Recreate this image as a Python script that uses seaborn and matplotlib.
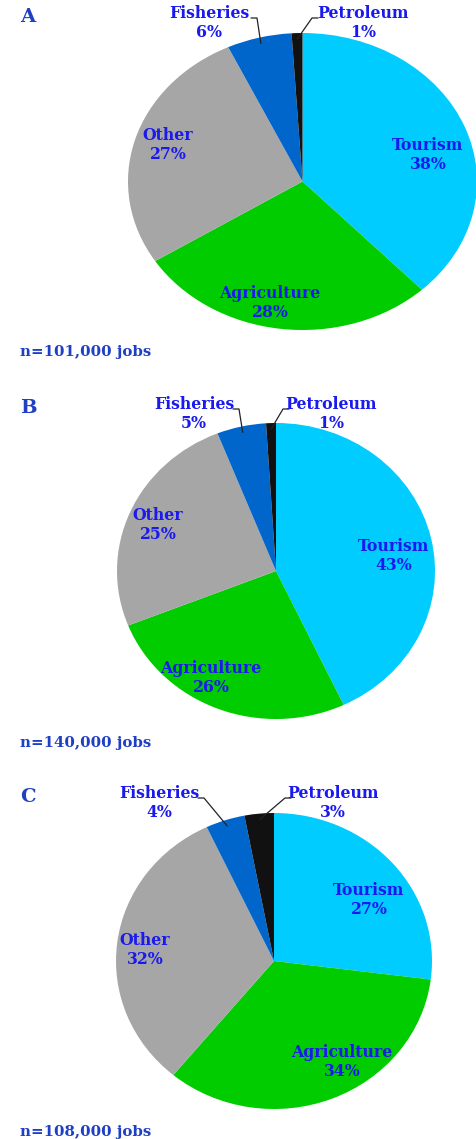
import numpy as np
import matplotlib
matplotlib.use('Agg')
import matplotlib.pyplot as plt
from matplotlib.lines import Line2D
import seaborn as sns

sns.set_theme(style='white')
plt.rcParams['font.family'] = ['DejaVu Serif']

W, H = 477, 1139

sectors = ['Tourism', 'Agriculture', 'Other', 'Fisheries', 'Petroleum']
share_a = [38, 28, 27, 6, 1]
share_b = [43, 26, 25, 5, 1]
share_c = [27, 34, 32, 4, 3]
panel_letters = ['A', 'B', 'C']
totals = ['n=101,000 jobs', 'n=140,000 jobs', 'n=108,000 jobs']

colors = ['#00CCFF', '#00CC00', '#A6A6A6', '#0066CC', '#111111']
label_blue = '#1a1aee'
title_blue = '#1f3fc4'

# pie boxes in pixels: left, top, right, bottom
boxes = [(128, 33, 477, 330), (117, 423, 435, 719), (116, 813, 432, 1109)]
# label centres in pixels for each sector
label_pos = [
    [(428, 155), (270, 303), (168, 145), (209, 23), (363, 23)],
    [(394, 556), (211, 678), (158, 525), (194, 414), (331, 414)],
    [(369, 900), (342, 1062), (145, 950), (159, 803), (333, 803)],
]
# where the leader lines leave the small labels (pixels)
leader_start = [
    [(251, 18), (318, 18)],
    [(233, 409), (289, 409)],
    [(198, 798), (291, 798)],
]
letter_pos = [(28, 17), (28, 408), (28, 797)]
total_pos = [(20, 352), (20, 743), (20, 1132)]

fig = plt.figure(figsize=(W / 100, H / 100), dpi=100)


def fx(px):
    return px / W


def fy(py):
    return 1 - py / H


for i, shares in enumerate([share_a, share_b, share_c]):
    l, t, r, b = boxes[i]
    ax = fig.add_axes([fx(l), fy(b), (r - l) / W, (b - t) / H])
    wedges, _ = ax.pie(shares, colors=colors, startangle=90, counterclock=False,
                       radius=1, wedgeprops=dict(linewidth=0))
    ax.set_xlim(-1, 1)
    ax.set_ylim(-1, 1)
    ax.set_aspect('auto')
    ax.axis('off')

    for j, (name, val) in enumerate(zip(sectors, shares)):
        px, py = label_pos[i][j]
        if j >= 3:
            w = wedges[j]
            mid = np.deg2rad((w.theta1 + w.theta2) / 2)
            # tip of the leader in pixels
            tx = (l + r) / 2 + 0.96 * np.cos(mid) * (r - l) / 2
            ty = (t + b) / 2 - 0.96 * np.sin(mid) * (b - t) / 2
            sx, sy = leader_start[i][j - 3]
            step = 6 if j == 3 else -6
            xs = [sx, sx + step, tx]
            ys = [sy, sy, ty]
            fig.add_artist(Line2D([fx(v) for v in xs], [fy(v) for v in ys],
                                  transform=fig.transFigure, color='#222222', lw=0.9))
        fig.text(fx(px), fy(py), f'{name}\n{val}%', ha='center', va='center',
                 color=label_blue, fontsize=11.3, fontweight='bold', linespacing=1.2)

    fig.text(fx(letter_pos[i][0]), fy(letter_pos[i][1]), panel_letters[i],
             ha='center', va='center', color=title_blue, fontsize=14, fontweight='bold')
    fig.text(fx(total_pos[i][0]), fy(total_pos[i][1]), totals[i],
             ha='left', va='center', color=title_blue, fontsize=10.8, fontweight='bold')

fig.savefig('out.png', dpi=100)
